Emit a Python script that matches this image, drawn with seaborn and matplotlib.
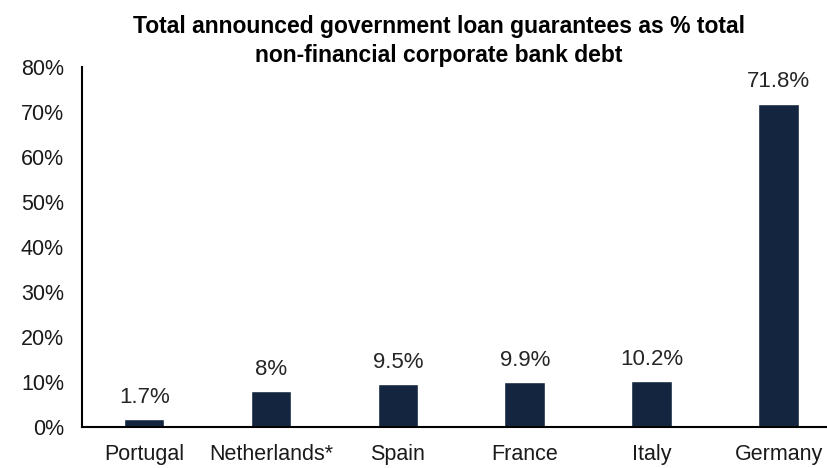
import matplotlib
matplotlib.use("Agg")
import matplotlib.pyplot as plt
import seaborn as sns
import pandas as pd

countries = ["Portugal", "Netherlands*", "Spain", "France", "Italy", "Germany"]
values = [1.7, 8.0, 9.5, 9.9, 10.2, 71.8]
value_labels = ["1.7%", "8%", "9.5%", "9.9%", "10.2%", "71.8%"]
y_ticks = [0, 10, 20, 30, 40, 50, 60, 70, 80]
title = "Total announced government loan guarantees as % total\nnon-financial corporate bank debt"

sns.set_theme(style="white")
plt.rcParams["font.family"] = ["Liberation Sans", "DejaVu Sans"]

df = pd.DataFrame({"country": countries, "value": values})

fig = plt.figure(figsize=(8.28, 4.68), dpi=100)
ax = fig.add_axes([0.099, 0.0876, 0.901, 0.77])

sns.barplot(data=df, x="country", y="value", color="#14263F", width=0.32,
            saturation=1, ax=ax)

ax.bar_label(ax.containers[0], labels=value_labels, padding=8,
             fontsize=16, color="#262626")

ax.set_ylim(0, 80)
ax.set_xlim(-0.49, 5.39)
ax.set_yticks(y_ticks)
ax.set_yticklabels([f"{t}%" for t in y_ticks])
ax.set_xlabel("")
ax.set_ylabel("")
ax.tick_params(axis="both", length=0, labelsize=15.5, labelcolor="#1a1a1a")
ax.tick_params(axis="y", pad=13)
ax.tick_params(axis="x", pad=12)

for s in ["top", "right"]:
    ax.spines[s].set_visible(False)
ax.spines["left"].set_color("black")
ax.spines["bottom"].set_color("black")
ax.spines["left"].set_linewidth(1.5)
ax.spines["bottom"].set_linewidth(1.5)

fig.text(0.53, 0.968, title, ha="center", va="top", fontsize=16.5,
         fontweight="bold", color="black", linespacing=1.35)

fig.savefig("out.png", dpi=100)
